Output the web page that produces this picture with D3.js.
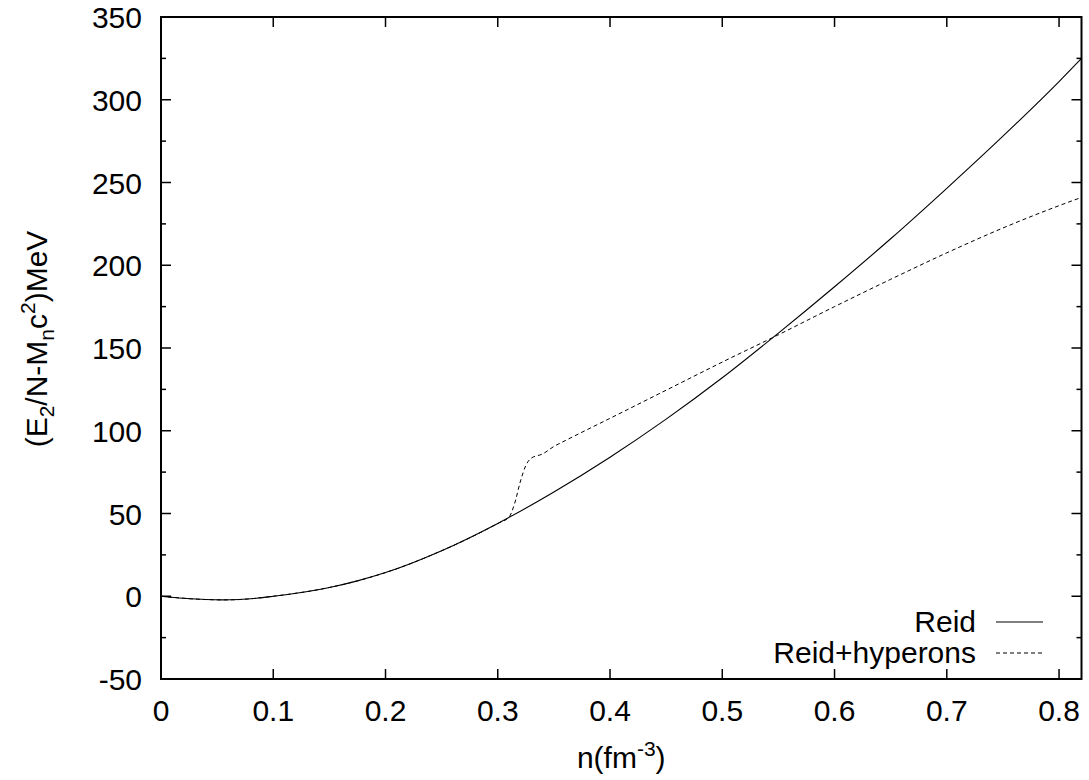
<!DOCTYPE html>
<html>
<head>
<meta charset="utf-8">
<script src="https://cdn.jsdelivr.net/npm/d3@7/dist/d3.min.js"></script>
<style>
  body { margin: 0; background: #fff; }
  svg text { font-family: "Liberation Sans", Arial, sans-serif; fill: #000; }
</style>
</head>
<body>
<div id="chart"></div>
<script>
// Reid EOS curve (density n in fm^-3, energy in MeV)
const reidN = [0, 0.02, 0.04, 0.055, 0.07, 0.085, 0.1, 0.125, 0.15, 0.175, 0.2, 0.25, 0.3, 0.35, 0.4, 0.45, 0.5, 0.55, 0.6, 0.65, 0.7, 0.75, 0.8, 0.82];
const reidE = [0, -1.2, -2, -2.2, -2, -1.2, 0, 2.3, 5.3, 9.3, 14.3, 27.5, 44, 63, 84, 107, 132, 159, 187, 216, 246.5, 278, 311, 325];

// Reid + hyperons (follows Reid below ~0.31)
const hypN = [0, 0.02, 0.04, 0.055, 0.07, 0.085, 0.1, 0.125, 0.15, 0.175, 0.2, 0.25, 0.3, 0.31, 0.315, 0.32, 0.325, 0.33, 0.34, 0.35, 0.36, 0.4, 0.45, 0.5, 0.55, 0.6, 0.65, 0.7, 0.75, 0.8, 0.82];
const hypE = [0, -1.2, -2, -2.2, -2, -1.2, 0, 2.3, 5.3, 9.3, 14.3, 27.5, 44, 47.8, 56, 69, 79, 83.5, 86, 90.5, 94, 107.5, 124.5, 141.5, 158, 175, 191.5, 207.5, 222.5, 236, 241];

const xTicks = [0, 0.1, 0.2, 0.3, 0.4, 0.5, 0.6, 0.7, 0.8];
const yTicks = [-50, 0, 50, 100, 150, 200, 250, 300, 350];
const yMinor = [-25, 25, 75, 125, 175, 225, 275, 325];

const W = 1089, H = 780;
const pL = 161, pR = 1081.5, pT = 17, pB = 679;

const svg = d3.select("#chart").append("svg")
  .attr("width", W).attr("height", H);

const x = d3.scaleLinear().domain([0, 0.82]).range([pL, pR]);
const y = d3.scaleLinear().domain([-50, 350]).range([pB, pT]);

const fs = 30;

// ticks (inward on all four sides)
const tk = svg.append("g").attr("stroke", "#000").attr("stroke-width", 1.5);
xTicks.forEach(v => {
  tk.append("line").attr("x1", x(v)).attr("x2", x(v)).attr("y1", pB).attr("y2", pB - 10);
  tk.append("line").attr("x1", x(v)).attr("x2", x(v)).attr("y1", pT).attr("y2", pT + 10);
});
yTicks.forEach(v => {
  tk.append("line").attr("x1", pL).attr("x2", pL + 10).attr("y1", y(v)).attr("y2", y(v));
  tk.append("line").attr("x1", pR).attr("x2", pR - 10).attr("y1", y(v)).attr("y2", y(v));
});
yMinor.forEach(v => {
  tk.append("line").attr("x1", pL).attr("x2", pL + 5).attr("y1", y(v)).attr("y2", y(v));
  tk.append("line").attr("x1", pR).attr("x2", pR - 5).attr("y1", y(v)).attr("y2", y(v));
});

// tick labels
svg.append("g").selectAll("text").data(xTicks).join("text")
  .attr("x", d => x(d)).attr("y", 721)
  .attr("text-anchor", "middle").attr("font-size", fs)
  .text(d => d3.format("")(d));
svg.append("g").selectAll("text").data(yTicks).join("text")
  .attr("x", 142).attr("y", d => y(d) + 11)
  .attr("text-anchor", "end").attr("font-size", fs)
  .text(d => d);

// curves
const line = d3.line().x(d => x(d[0])).y(d => y(d[1])).curve(d3.curveMonotoneX);
svg.append("clipPath").attr("id", "clip").append("rect")
  .attr("x", pL).attr("y", pT).attr("width", pR - pL).attr("height", pB - pT);

svg.append("path")
  .datum(hypN.map((n, i) => [n, hypE[i]]))
  .attr("clip-path", "url(#clip)")
  .attr("d", line).attr("fill", "none").attr("stroke", "#000")
  .attr("stroke-width", 1).attr("stroke-dasharray", "4,3");
svg.append("path")
  .datum(reidN.map((n, i) => [n, reidE[i]]))
  .attr("clip-path", "url(#clip)")
  .attr("d", line).attr("fill", "none").attr("stroke", "#000")
  .attr("stroke-width", 1.1);

// frame
svg.append("rect")
  .attr("x", pL).attr("y", pT).attr("width", pR - pL).attr("height", pB - pT)
  .attr("fill", "none").attr("stroke", "#000").attr("stroke-width", 2);

// legend
const legend = [
  { label: "Reid", dash: null, y: 622 },
  { label: "Reid+hyperons", dash: "4,3", y: 653 }
];
legend.forEach(d => {
  svg.append("text").attr("x", 976).attr("y", d.y + 10)
    .attr("text-anchor", "end").attr("font-size", fs).text(d.label);
  svg.append("line").attr("x1", 996).attr("x2", 1043).attr("y1", d.y).attr("y2", d.y)
    .attr("stroke", "#000").attr("stroke-width", 1)
    .attr("stroke-dasharray", d.dash);
});

// axis titles
const xt = svg.append("text").attr("x", (pL + pR) / 2).attr("y", 768)
  .attr("text-anchor", "middle").attr("font-size", fs);
xt.append("tspan").text("n(fm");
xt.append("tspan").attr("font-size", 21).attr("dy", -12).text("-3");
xt.append("tspan").attr("dy", 12).text(")");

const yt = svg.append("text")
  .attr("transform", `translate(47,${(pT + pB) / 2 - 9}) rotate(-90)`)
  .attr("text-anchor", "middle").attr("font-size", fs);
yt.append("tspan").text("(E");
yt.append("tspan").attr("font-size", 21).attr("dy", 7).text("2");
yt.append("tspan").attr("dy", -7).text("/N-M");
yt.append("tspan").attr("font-size", 21).attr("dy", 7).text("n");
yt.append("tspan").attr("dy", -7).text("c");
yt.append("tspan").attr("font-size", 21).attr("dy", -12).text("2");
yt.append("tspan").attr("dy", 12).text(")MeV");
</script>
</body>
</html>
